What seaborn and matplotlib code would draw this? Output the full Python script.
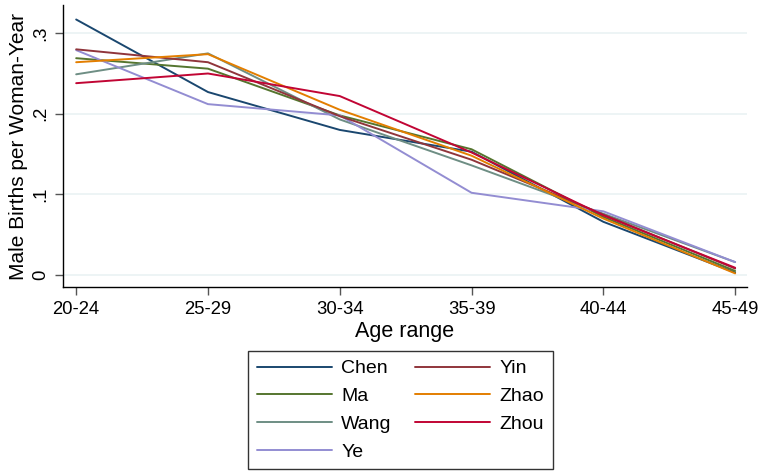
import matplotlib.pyplot as plt
import seaborn as sns
import pandas as pd

ages = ['20-24', '25-29', '30-34', '35-39', '40-44', '45-49']
names = ['Chen', 'Ma', 'Wang', 'Ye', 'Yin', 'Zhao', 'Zhou']

chen = [0.317, 0.227, 0.180, 0.153, 0.066, 0.003]
ma = [0.269, 0.256, 0.198, 0.156, 0.072, 0.005]
wang = [0.249, 0.275, 0.193, 0.136, 0.076, 0.016]
ye = [0.279, 0.212, 0.198, 0.102, 0.079, 0.016]
yin = [0.280, 0.264, 0.197, 0.143, 0.075, 0.008]
zhao = [0.264, 0.274, 0.205, 0.148, 0.070, 0.002]
zhou = [0.238, 0.250, 0.222, 0.152, 0.074, 0.009]

colors = ['#1a476f', '#55752f', '#6e8e84', '#938dd2', '#90353b', '#e37e00', '#c10534']

# long format table for seaborn
rows = []
for name, vals in zip(names, [chen, ma, wang, ye, yin, zhao, zhou]):
    for i, v in enumerate(vals):
        rows.append([name, i, v])
df = pd.DataFrame(rows, columns=['name', 'age', 'births'])

sns.set_style('white')
plt.rcParams['font.family'] = ['Liberation Sans', 'DejaVu Sans']
plt.rcParams['text.color'] = 'black'
plt.rcParams['axes.labelcolor'] = 'black'
plt.rcParams['xtick.color'] = 'black'
plt.rcParams['ytick.color'] = 'black'

fig = plt.figure(figsize=(7.63, 4.72), dpi=100)
ax = fig.add_axes([63 / 763, 1 - 287 / 472, (747 - 63) / 763, (287 - 5) / 472])

sns.lineplot(data=df, x='age', y='births', hue='name', hue_order=names,
             palette=colors, linewidth=1.4, ax=ax, legend=False)

ax.set_xlim(-0.1, 5.09)
ax.set_ylim(-0.0149, 0.335)
ax.set_xticks(range(len(ages)))
ax.set_xticklabels(ages)
ax.set_yticks([0, 0.1, 0.2, 0.3])
ax.set_yticklabels(['0', '.1', '.2', '.3'], rotation=90, va='center')
ax.yaxis.grid(True, color='#eaf2f3', linewidth=1.2)
ax.set_axisbelow(True)
ax.tick_params(axis='both', direction='out', length=6, width=1, labelsize=13.3,
               color='#555555', bottom=True, left=True, pad=4)
for s in ['top', 'right']:
    ax.spines[s].set_visible(False)
for s in ['left', 'bottom']:
    ax.spines[s].set_color('black')
    ax.spines[s].set_linewidth(1)

ax.set_xlabel('Age range', fontsize=15.5, labelpad=2)
ax.set_ylabel('Male Births per Woman-Year', fontsize=15, labelpad=3)

# legend: order columns like Stata (column-major, 2 cols)
handles = [plt.Line2D([], [], color=c, linewidth=1.4) for c in colors]
leg = fig.legend(handles, names, ncol=2, loc='upper left',
                 bbox_to_anchor=(248 / 763, 1 - 351 / 472), frameon=True, fancybox=False,
                 edgecolor='black', fontsize=14, handlelength=3.85, handletextpad=0.5,
                 columnspacing=1.2, labelspacing=0.52, borderpad=0.45, borderaxespad=0)
leg.get_frame().set_linewidth(1)

plt.savefig('out.png', dpi=100)
